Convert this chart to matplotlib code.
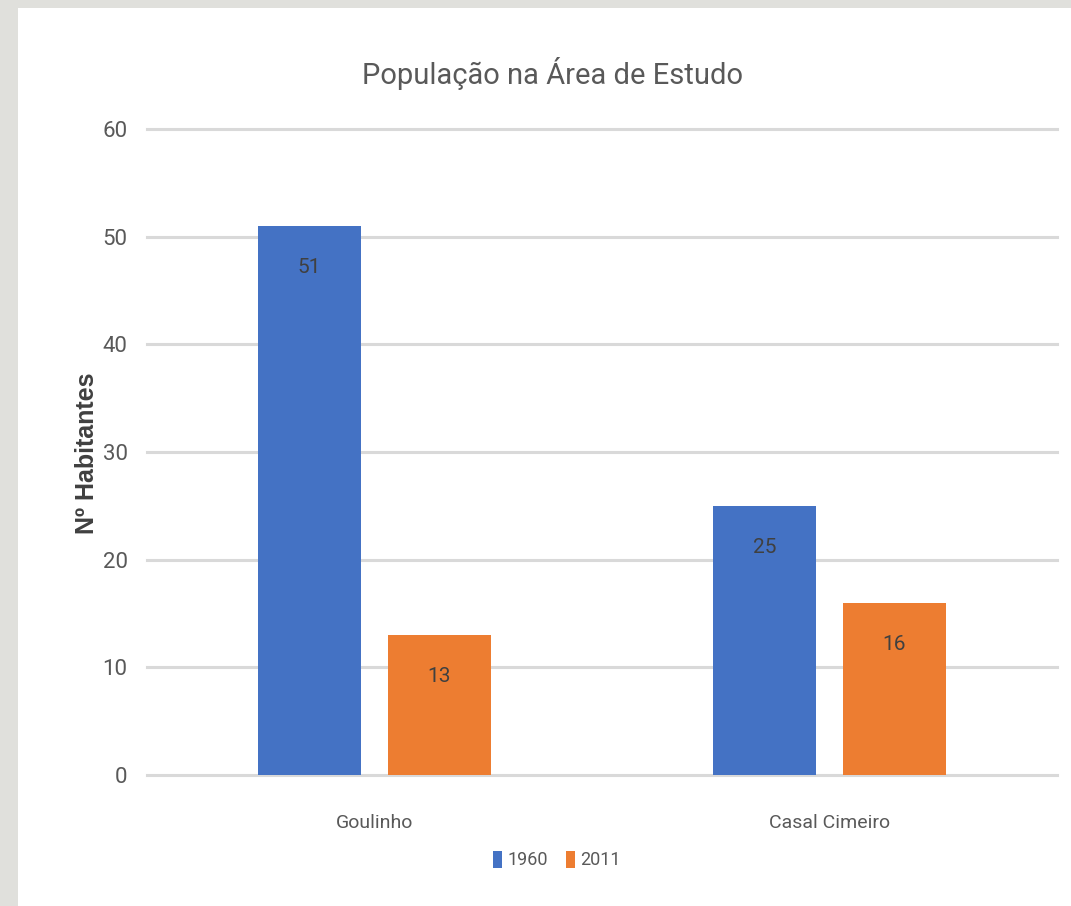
import numpy as np
import matplotlib
matplotlib.use('Agg')
import matplotlib.pyplot as plt
from matplotlib.patches import Rectangle

# data
places = ['Goulinho', 'Casal Cimeiro']
years = ['1960', '2011']
pop_1960 = [51, 25]
pop_2011 = [13, 16]
yticks = [0, 10, 20, 30, 40, 50, 60]

blue = '#4472C4'
orange = '#ED7D31'
txt = '#595959'
narrow = ['Liberation Sans Narrow', 'Roboto', 'DejaVu Sans']

fig = plt.figure(figsize=(10.71, 9.06), dpi=100)
fig.patch.set_facecolor('#e0e0dc')
# white chart panel sitting on the grey slide background
fig.patches.append(Rectangle((18/1071, 0), 1, 1 - 8/906, transform=fig.transFigure,
                             facecolor='white', edgecolor='none', zorder=-5))

ax = fig.add_axes([147/1071, 1 - 775/906, 910/1071, 646/906])
ax.set_facecolor('none')
ax.set_zorder(2)

x = np.arange(len(places))
w = 0.226
off = 0.1425
b1 = ax.bar(x - off, pop_1960, w, color=blue, label=years[0], zorder=3)
b2 = ax.bar(x + off, pop_2011, w, color=orange, label=years[1], zorder=3)

for bars in (b1, b2):
    for r in bars:
        ax.annotate(f'{r.get_height():.0f}', (r.get_x() + r.get_width()/2, r.get_height()),
                    xytext=(0, -30), textcoords='offset points', ha='center', va='center',
                    fontsize=15, color='#404040', family=narrow, zorder=4)

ax.set_xlim(-0.5, 1.5)
ax.set_ylim(0, 60)
ax.set_yticks(yticks)
for t in yticks:
    ax.axhline(t, color='#d9d9d9', lw=2.2, zorder=1, clip_on=False)

for s in ax.spines.values():
    s.set_visible(False)
ax.set_xticks(x)
ax.set_xticklabels(places, family=narrow, fontsize=14, color=txt)
ax.set_yticklabels([str(t) for t in yticks], family=narrow, fontsize=16, color=txt)
ax.tick_params(axis='x', length=0, pad=28)
ax.tick_params(axis='y', length=0, pad=14)

fig.text(553/1071, 1 - 73/906, 'População na Área de Estudo', ha='center', va='center',
         fontsize=21, color=txt, family=narrow)
fig.text(87/1071, 1 - 453/906, 'Nº Habitantes', rotation=90, ha='center', va='center',
         fontsize=18, fontweight='bold', color='#404040', family=['Liberation Sans', 'DejaVu Sans'])

leg = fig.legend(loc='center', bbox_to_anchor=(557/1071, 1 - 860/906), ncol=2, frameon=False,
                 handlelength=0.5, handleheight=1.1, handletextpad=0.3, columnspacing=1.0,
                 prop={'family': narrow, 'size': 13})
for t in leg.get_texts():
    t.set_color(txt)

plt.savefig('out.png', dpi=100, facecolor=fig.get_facecolor())
